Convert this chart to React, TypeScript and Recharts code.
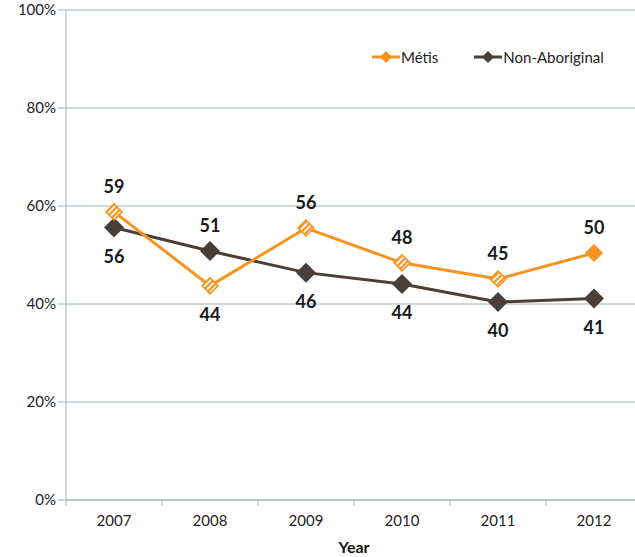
import { LineChart, Line, XAxis, YAxis, CartesianGrid, LabelList } from 'recharts';

const years = ['2007', '2008', '2009', '2010', '2011', '2012'];
const metis = [58.8, 43.7, 55.5, 48.4, 45.1, 50.4];
const nonAboriginal = [55.6, 50.8, 46.4, 44.1, 40.4, 41.1];
const metisLabelSide = ['top', 'bottom', 'top', 'top', 'top', 'top'];
const nonAbLabelSide = ['bottom', 'top', 'bottom', 'bottom', 'bottom', 'bottom'];
const yTicks = [0, 20, 40, 60, 80, 100];

const ORANGE = '#f7931e';
const BROWN = '#4b3e37';
const AXIS = '#a3b2b9';
const FONT = 'Lato, "Open Sans", sans-serif';

const data = years.map((year, i) => ({ year, metis: metis[i], nonAb: nonAboriginal[i] }));

const MetisDot = (props: any) => {
  const { cx, cy, index } = props;
  const r = 8;
  const pts = `${cx},${cy - r} ${cx + r},${cy} ${cx},${cy + r} ${cx - r},${cy}`;
  if (index === years.length - 1) {
    return <polygon key={`m-${index}`} points={pts} fill={ORANGE} stroke={ORANGE} strokeWidth={1.5} />;
  }
  const id = `hatch-${index}`;
  return (
    <g key={`m-${index}`}>
      <defs>
        <pattern id={id} width={4} height={4} patternUnits="userSpaceOnUse" patternTransform="rotate(45)">
          <rect width={4} height={4} fill="#fff" />
          <rect width={2.2} height={4} fill={ORANGE} />
        </pattern>
      </defs>
      <polygon points={pts} fill={`url(#${id})`} stroke={ORANGE} strokeWidth={1.5} />
    </g>
  );
};

const NonAbDot = (props: any) => {
  const { cx, cy, index } = props;
  const r = 10;
  const pts = `${cx},${cy - r} ${cx + r},${cy} ${cx},${cy + r} ${cx - r},${cy}`;
  return <polygon key={`n-${index}`} points={pts} fill={BROWN} />;
};

const makeLabel = (sides: string[]) => (props: any) => {
  const { x, y, value, index } = props;
  const dy = sides[index] === 'top' ? -26 : 28;
  return (
    <text x={x} y={y + dy} textAnchor="middle" dominantBaseline="central"
      fontFamily={FONT} fontSize={18} fontWeight={700} fill="#1a1a1a">
      {Math.round(value)}
    </text>
  );
};

const XTick = (props: any) => {
  const { x, y, payload } = props;
  const off = payload.offset || 0;
  return (
    <g>
      <line x1={x - off} x2={x - off} y1={y - 8} y2={y - 2} stroke={AXIS} strokeWidth={1} />
      <text x={x} y={y + 18} textAnchor="middle" fontFamily={FONT} fontSize={15} fill="#222">{payload.value}</text>
    </g>
  );
};

const LegendItem = ({ color, label }: { color: string; label: string }) => (
  <span style={{ display: 'inline-flex', alignItems: 'center', marginRight: 36, whiteSpace: 'nowrap' }}>
    <svg width={28} height={14}>
      <line x1={0} x2={28} y1={7} y2={7} stroke={color} strokeWidth={3} />
      <polygon points="14,1 20,7 14,13 8,7" fill={color} />
    </svg>
    <span style={{ marginLeft: 1 }}>{label}</span>
  </span>
);

export default function App() {
  return (
    <div style={{ position: 'fixed', left: 0, top: 0, width: 635, height: 557, overflow: 'hidden', background: '#fff' }}>
      <LineChart width={660} height={557} data={data} margin={{ top: 10, right: 18, bottom: 0, left: 0 }}>
        <CartesianGrid vertical={false} stroke={AXIS} strokeWidth={1} />
        <XAxis dataKey="year" scale="band" tickLine={false} stroke={AXIS} height={57} tick={<XTick />} interval={0}
          label={{ value: 'Year', position: 'insideBottom', offset: 4, fontFamily: FONT, fontSize: 16, fontWeight: 700, fill: '#111' }} />
        <YAxis domain={[0, 100]} ticks={yTicks} width={66} stroke={AXIS} tickSize={8}
          tickFormatter={(v: number) => `${v}%`}
          tick={{ fontFamily: FONT, fontSize: 15, fill: '#222' }} />
        <Line dataKey="nonAb" name="Non-Aboriginal" stroke={BROWN} strokeWidth={3} dot={NonAbDot}
          isAnimationActive={false}>
          <LabelList dataKey="nonAb" content={makeLabel(nonAbLabelSide)} />
        </Line>
        <Line dataKey="metis" name="Métis" stroke={ORANGE} strokeWidth={3} dot={MetisDot}
          isAnimationActive={false}>
          <LabelList dataKey="metis" content={makeLabel(metisLabelSide)} />
        </Line>
      </LineChart>
      <div style={{ position: 'absolute', top: 48, left: 372, display: 'flex', fontFamily: FONT, fontSize: 15, color: '#222' }}>
        <LegendItem color={ORANGE} label="Métis" />
        <LegendItem color={BROWN} label="Non-Aboriginal" />
      </div>
    </div>
  );
}
